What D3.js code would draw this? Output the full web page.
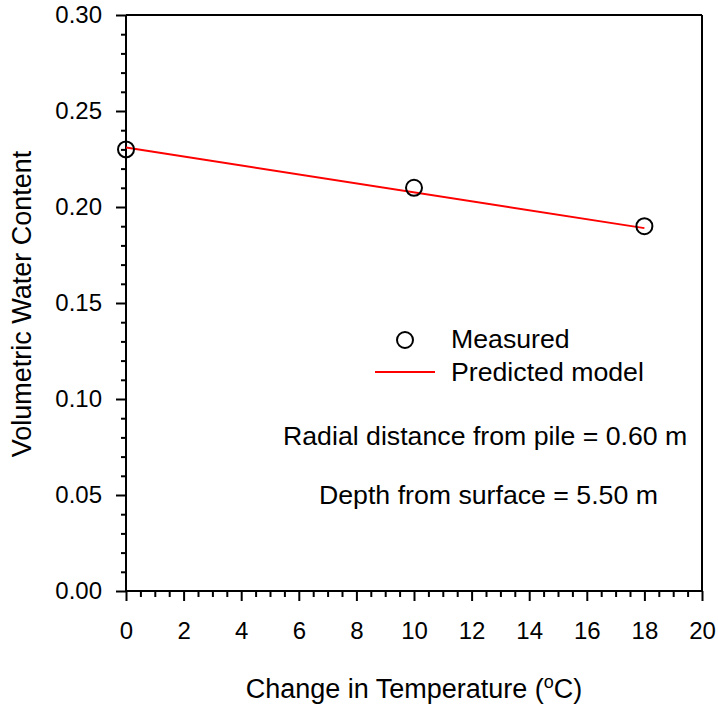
<!DOCTYPE html>
<html><head><meta charset="utf-8">
<script src="https://cdn.jsdelivr.net/npm/d3@7"></script>
<style>body{margin:0;background:#fff}svg{display:block}text{font-family:"Liberation Sans",Arial,sans-serif;fill:#000}</style>
</head><body><svg id="c" width="718" height="708"></svg>
<script>
const measuredX = [0, 10, 18];
const measuredY = [0.23, 0.21, 0.19];
const modelX = [0, 18];
const modelY = [0.231, 0.189];
const xTicks = [0,2,4,6,8,10,12,14,16,18,20];
const yTicks = [0.00,0.05,0.10,0.15,0.20,0.25,0.30];

const svg = d3.select("#c");
const L=126,R=702,T=15,B=591;
const x = d3.scaleLinear().domain([0,20]).range([L,R]);
const y = d3.scaleLinear().domain([0,0.30]).range([B,T]);
const fs = 24;
const ff = "Liberation Sans, Arial, sans-serif";

// frame
svg.append("line").attr("x1",L).attr("x2",R).attr("y1",T).attr("y2",T).attr("stroke","#000").attr("stroke-width",2);
svg.append("line").attr("x1",R).attr("x2",R).attr("y1",T).attr("y2",B).attr("stroke","#000").attr("stroke-width",2);

// x axis
const xMinor = d3.range(0,20.001,0.5).filter(v=>Math.abs(v/2-Math.round(v/2))>1e-6);
const gx = svg.append("g").attr("transform",`translate(0,${B})`)
  .call(d3.axisBottom(x).tickValues(xMinor).tickSize(6).tickFormat(""));
const gx2 = svg.append("g").attr("transform",`translate(0,${B})`)
  .call(d3.axisBottom(x).tickValues(xTicks).tickSize(10).tickPadding(21).tickFormat(d3.format("d")));
[gx,gx2].forEach(g=>{g.select(".domain").attr("stroke-width",2).attr("d",`M${L},0H${R}`);g.selectAll(".tick line").attr("stroke-width",2);});
gx2.selectAll(".tick text").style("font-size",fs+"px").style("font-family",ff).attr("fill","#000");

// y axis
const yMinor = d3.range(0,0.3001,0.01).filter((v,i)=>i%5!==0);
const gy = svg.append("g").attr("transform",`translate(${L},0)`)
  .call(d3.axisLeft(y).tickValues(yMinor).tickSize(5).tickFormat(""));
const gy2 = svg.append("g").attr("transform",`translate(${L},0)`)
  .call(d3.axisLeft(y).tickValues(yTicks).tickSize(10).tickPadding(14).tickFormat(d3.format(".2f")));
[gy,gy2].forEach(g=>{g.select(".domain").attr("stroke-width",2).attr("d",`M0,${B}V${T}`);g.selectAll(".tick line").attr("stroke-width",2);});
gy2.selectAll(".tick text").style("font-size",fs+"px").style("font-family",ff).attr("fill","#000");

// model line
const line = d3.line().x(d=>x(d[0])).y(d=>y(d[1]));
svg.append("path").datum(modelX.map((v,i)=>[v,modelY[i]])).attr("d",line)
  .attr("fill","none").attr("stroke","#ff0000").attr("stroke-width",2);

// points
svg.selectAll("circle.pt").data(measuredX.map((v,i)=>[v,measuredY[i]])).enter().append("circle")
  .attr("class","pt").attr("cx",d=>x(d[0])).attr("cy",d=>y(d[1])).attr("r",8)
  .attr("fill","none").attr("stroke","#000").attr("stroke-width",2);

// legend
const ls = "26.7px";
svg.append("circle").attr("cx",405).attr("cy",340).attr("r",8).attr("fill","none").attr("stroke","#000").attr("stroke-width",2);
svg.append("text").attr("x",451).attr("y",348).style("font-size",ls).text("Measured");
svg.append("line").attr("x1",375).attr("x2",435).attr("y1",372).attr("y2",372).attr("stroke","#ff0000").attr("stroke-width",1.8);
svg.append("text").attr("x",451).attr("y",381).style("font-size",ls).text("Predicted model");
svg.append("text").attr("x",283).attr("y",445).style("font-size",ls).text("Radial distance from pile = 0.60 m");
svg.append("text").attr("x",319).attr("y",504).style("font-size",ls).text("Depth from surface = 5.50 m");

// axis titles
const xt = svg.append("text").attr("x",414).attr("y",698).attr("text-anchor","middle").style("font-size","27px");
xt.append("tspan").text("Change in Temperature (");
xt.append("tspan").attr("dy",-10).style("font-size","18px").text("o");
xt.append("tspan").attr("dy",10).text("C)");
svg.append("text").attr("transform","translate(31,304) rotate(-90)").attr("text-anchor","middle").style("font-size","27px").text("Volumetric Water Content");
</script></body></html>
